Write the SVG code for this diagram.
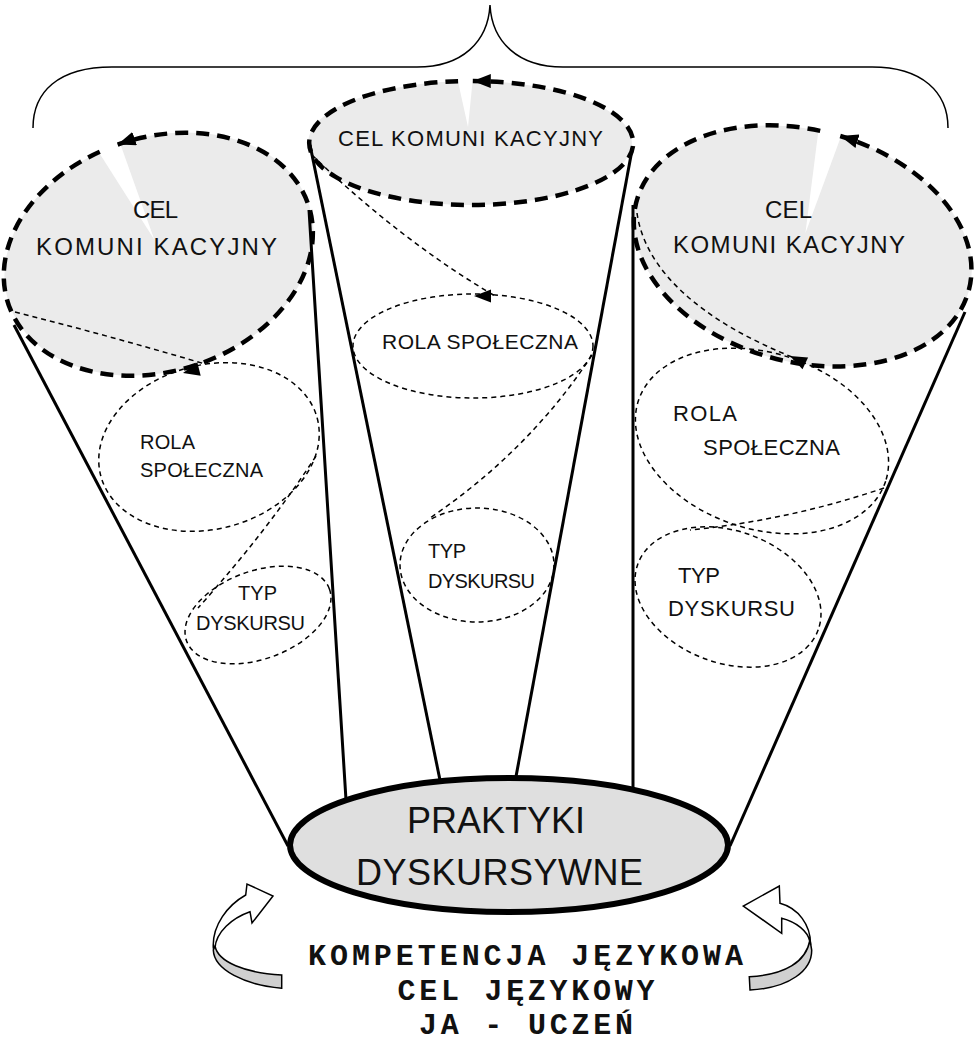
<svg xmlns="http://www.w3.org/2000/svg" width="976" height="1044" viewBox="0 0 976 1044">
<defs>
<marker id="ah" markerUnits="userSpaceOnUse" markerWidth="20" markerHeight="14" refX="18" refY="7" orient="auto"><path d="M0,0 L18,7 L0,14 Z" fill="#000"/></marker>
</defs>
<style>
.big{fill:#ebebeb}
.bigs{fill:none;stroke:#000;stroke-width:4.5;stroke-dasharray:13 8}
.thin{fill:none;stroke:#000;stroke-width:1.5;stroke-dasharray:5 4}
.solid{stroke:#000;stroke-width:3;fill:none;stroke-linecap:butt}
.t{font-family:"Liberation Sans",Arial,sans-serif;fill:#111}
.m{font-family:"Courier New","Liberation Mono",monospace;font-weight:bold;fill:#111;font-size:30px}
.rib{stroke:#000;stroke-width:1.5;stroke-linejoin:miter}
</style>
<rect width="976" height="1044" fill="#fff"/>

<g id="brace">
<path d="M33,128 C33,92 58,67 112,67 L417,67 C462,67 488,42 490,5 C492,42 518,67 563,67 L872,67 C922,67 948,92 948,128" fill="none" stroke="#000" stroke-width="1.5"/>
</g>

<g id="cel-left">
<g transform="translate(159,254) rotate(-18)">
<ellipse rx="158" ry="117" class="big"/>
<polygon points="0,-15 -28,-124 -3,-124" fill="#fff"/>
<path class="bigs" d="M-24.7,-115.6 A158,117 0 1 0 -5.5,-116.9" marker-end="url(#ah)"/>
</g>
</g>

<g id="cel-center">
<g transform="translate(470,143)">
<ellipse rx="162" ry="62" class="big"/>
<polygon points="-2,-16 -13,-66 3,-66" fill="#fff"/>
<path class="bigs" d="M-11.9,-61.8 A162,62 0 1 0 2.8,-62" marker-end="url(#ah)"/>
</g>
</g>

<g id="cel-right">
<g transform="translate(803,246) rotate(15)">
<ellipse rx="172" ry="116" class="big"/>
<polygon points="-1,-13 -16,-123 9,-123" fill="#fff"/>
<path class="bigs" d="M-13.2,-115.7 A172,116 0 1 0 7.5,-115.9" marker-end="url(#ah)"/>
</g>
</g>

<g id="connectors">
<line class="solid" x1="14" y1="325" x2="288" y2="846"/>
<line class="solid" x1="309" y1="210" x2="346" y2="800"/>
<line class="solid" x1="310" y1="145" x2="441" y2="785"/>
<line class="solid" x1="632" y1="150" x2="515" y2="782"/>
<line class="solid" x1="633" y1="205" x2="633" y2="792"/>
<line class="solid" x1="965" y1="312" x2="730" y2="846"/>
<path class="thin" d="M15,312 Q110,336 205,364"/>
<path class="thin" d="M316,456 Q268,530 198,608"/>
<path class="thin" d="M312,155 Q400,240 495,296"/>
<path class="thin" d="M592,355 Q530,450 430,518"/>
<path class="thin" d="M637,213 C645,270 700,320 792,357"/>
<path class="thin" d="M884,488 Q790,520 690,530"/>
</g>

<g id="rola-left">
<ellipse class="thin" transform="translate(209,447) rotate(-15)" rx="112" ry="82"/>
<polygon points="183,373 200.7,375.8 197.3,362.2" fill="#000"/>
<text class="t" x="140" y="449" font-size="20" textLength="55">ROLA</text>
<text class="t" x="140" y="477" font-size="20" textLength="123">SPOŁECZNA</text>
</g>

<g id="typ-left">
<ellipse class="thin" transform="translate(258,615) rotate(-20)" rx="76" ry="44"/>
<text class="t" x="238" y="600" font-size="20" textLength="39">TYP</text>
<text class="t" x="196" y="630" font-size="20" textLength="109">DYSKURSU</text>
</g>

<g id="rola-center">
<ellipse class="thin" cx="473" cy="346" rx="120" ry="52"/>
<polygon points="474,296 491,289.5 491,302.5" fill="#000"/>
<text class="t" x="382" y="349" font-size="21" textLength="196">ROLA SPOŁECZNA</text>
</g>

<g id="typ-center">
<ellipse class="thin" cx="477" cy="565" rx="77" ry="57"/>
<text class="t" x="428" y="558" font-size="20" textLength="38">TYP</text>
<text class="t" x="428" y="588" font-size="20" textLength="107">DYSKURSU</text>
</g>

<g id="rola-right">
<ellipse class="thin" transform="translate(762,441) rotate(18)" rx="130" ry="88"/>
<polygon points="790,356 808.1,357.4 802.5,369.2" fill="#000"/>
<text class="t" x="673" y="421" font-size="22" textLength="64">ROLA</text>
<text class="t" x="703" y="455" font-size="22" textLength="137">SPOŁECZNA</text>
</g>

<g id="typ-right">
<ellipse class="thin" transform="translate(728,597) rotate(20)" rx="96" ry="66"/>
<text class="t" x="678" y="583" font-size="22" textLength="42">TYP</text>
<text class="t" x="668" y="616" font-size="22" textLength="127">DYSKURSU</text>
</g>

<g id="cel-texts">
<text class="t" x="133" y="218" font-size="24" textLength="45">CEL</text>
<text class="t" x="36" y="255" font-size="24" textLength="241">KOMUNI KACYJNY</text>
<text class="t" x="338" y="146" font-size="22" textLength="265">CEL KOMUNI KACYJNY</text>
<text class="t" x="765" y="218" font-size="24" textLength="47">CEL</text>
<text class="t" x="673" y="253" font-size="24" textLength="232">KOMUNI KACYJNY</text>
</g>

<g id="praktyki">
<ellipse cx="509" cy="845" rx="219" ry="67" fill="#dfdfdf" stroke="#000" stroke-width="6"/>
<text class="t" x="407" y="833" font-size="36" textLength="178">PRAKTYKI</text>
<text class="t" x="356" y="885" font-size="36" textLength="287">DYSKURSYWNE</text>
</g>

<g id="arrow-left">
<path class="rib" fill="#fff" d="M213.3,948 C212,925 228,905 245.7,895 L247,884 L273,896 L252,923 L250,911.7 C232,918 216,932 215,948 Z"/>
<path class="rib" fill="#d0d0d0" d="M215,946 C218,962 245,973 281.7,975 L281.7,988.3 C245,985 214,970 213.3,950 Z"/>
</g>

<g id="arrow-right">
<path class="rib" fill="#fff" d="M810.5,945 C811,925 798,908 780,903.3 L779.3,886 L743.3,906 L781.7,933.3 L781.7,918.3 C796,922 808,931 810,942 Z"/>
<path class="rib" fill="#d0d0d0" d="M810,940 C806,962 785,975 749.3,976.7 L750,990 C790,988 812,970 811.7,950 Z"/>
</g>

<g id="bottom-text">
<text class="m" x="308" y="965" textLength="435">KOMPETENCJA JĘZYKOWA</text>
<text class="m" x="397.5" y="1000" textLength="257">CEL JĘZYKOWY</text>
<text class="m" x="419" y="1034" textLength="214">JA - UCZEŃ</text>
</g>
</svg>
